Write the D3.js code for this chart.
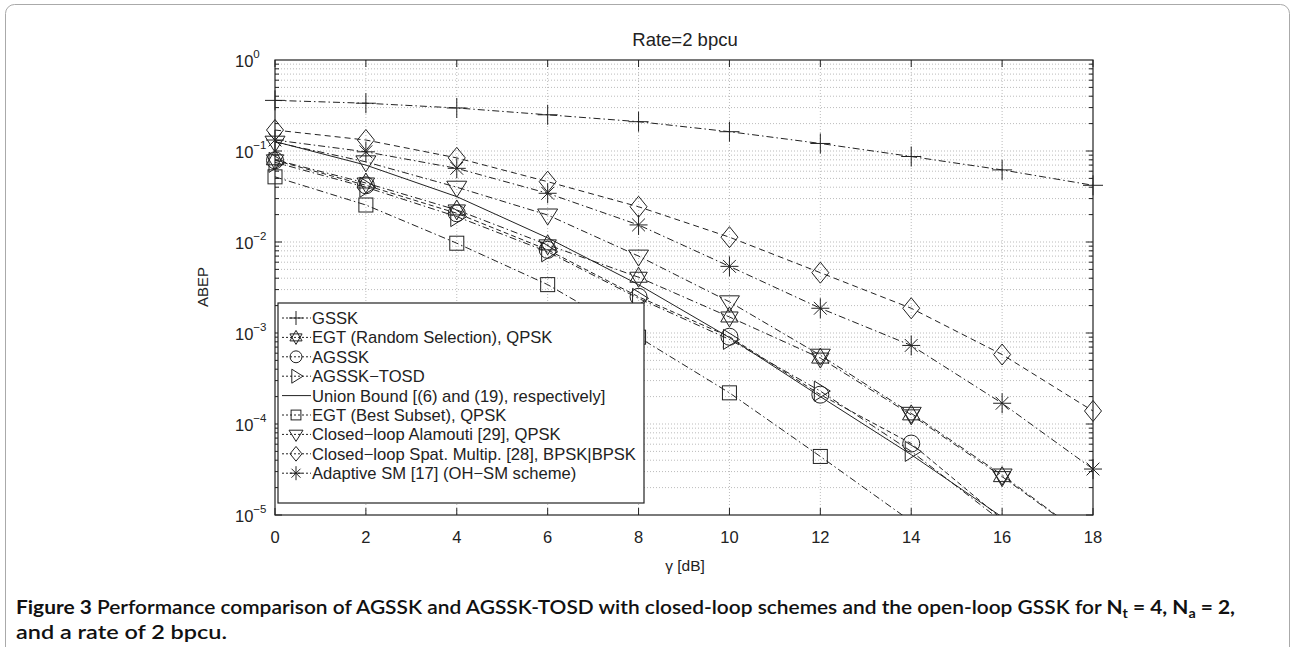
<!DOCTYPE html>
<html>
<head>
<meta charset="utf-8">
<script src="https://cdn.jsdelivr.net/npm/d3@7"></script>
<style>
  body { margin: 0; background: #fff; }
  svg { display: block; }
  text { font-family: "Liberation Sans", Arial, sans-serif; fill: #222; }
  .caption { font-family: Lato, "Noto Sans", sans-serif; font-weight: 700; fill: #111; }
</style>
</head>
<body>
<div class="chart"></div>
<script>
////////// DATA //////////

const snr = [0, 2, 4, 6, 8, 10, 12, 14, 16, 18];

const gssk      = [0.36, 0.335, 0.297, 0.25, 0.21, 0.163, 0.121, 0.087, 0.062, 0.042];
const egtRandom = [0.08, 0.0445, 0.0225, 0.0093, 0.0041, 0.0015, 5.3e-4, 1.26e-4, 2.64e-5, 5e-6];
const agssk     = [0.079, 0.042, 0.0207, 0.0082, 0.0025, 9.1e-4, 2.1e-4, 6.1e-5, 9e-6, 1.5e-6];
const agsskTosd = [0.075, 0.040, 0.019, 0.0078, 0.0024, 8.5e-4, 2.3e-4, 5.0e-5, 8.5e-6, 1.2e-6];
const unionBound = [0.127, 0.070, 0.0315, 0.0111, 0.0034, 8.9e-4, 2.0e-4, 4.6e-5, 9.5e-6, 1.7e-6];
const egtBest   = [0.052, 0.0255, 0.0097, 0.0034, 9e-4, 2.2e-4, 4.4e-5, 8.5e-6, 1.3e-6, 2e-7];
const alamouti  = [0.125, 0.076, 0.040, 0.0198, 0.0070, 0.0022, 5.7e-4, 1.31e-4, 2.75e-5, 5e-6];
const spatMux   = [0.17, 0.132, 0.084, 0.046, 0.0244, 0.0113, 0.0046, 0.00187, 5.8e-4, 1.39e-4];
const adaptSM   = [0.132, 0.098, 0.0645, 0.0343, 0.0154, 0.0054, 0.00187, 7.3e-4, 1.69e-4, 3.2e-5];

const xTicks = [0, 2, 4, 6, 8, 10, 12, 14, 16, 18];
const yDecades = [0, -1, -2, -3, -4, -5];

const series = [
  { name: "GSSK", values: gssk, marker: "plus", dash: "7,3,1.5,3" },
  { name: "EGT (Random Selection), QPSK", values: egtRandom, marker: "hexagram", dash: "7,3,1.5,3" },
  { name: "AGSSK", values: agssk, marker: "circle", dash: "5,3" },
  { name: "AGSSK\u2212TOSD", values: agsskTosd, marker: "triright", dash: "7,3,1.5,3" },
  { name: "Union Bound [(6) and (19), respectively]", values: unionBound, marker: null, dash: null },
  { name: "EGT (Best Subset), QPSK", values: egtBest, marker: "square", dash: "7,3,1.5,3" },
  { name: "Closed\u2212loop Alamouti [29], QPSK", values: alamouti, marker: "tridown", dash: "7,3,1.5,3" },
  { name: "Closed\u2212loop Spat. Multip. [28], BPSK|BPSK", values: spatMux, marker: "diamond", dash: "6,4" },
  { name: "Adaptive SM [17] (OH\u2212SM scheme)", values: adaptSM, marker: "asterisk", dash: "7,3,1.5,3" }
];

////////// SETUP //////////

const W = 1294, H = 647;
const margin = { left: 275, top: 60 };
const width = 1093 - 275, height = 515 - 60;

const svg = d3.select(".chart").append("svg")
    .attr("width", W)
    .attr("height", H);

// outer frame
svg.append("rect")
    .attr("x", 5.5).attr("y", 4.5)
    .attr("width", W - 10).attr("height", H + 20)
    .attr("rx", 9)
    .attr("fill", "none")
    .attr("stroke", "#aaa")
    .attr("stroke-width", 1);

const x = d3.scaleLinear().domain([0, 18]).range([0, width]);
const y = d3.scaleLog().domain([1e-5, 1]).range([height, 0]);

const g = svg.append("g")
    .attr("transform", "translate(" + margin.left + "," + margin.top + ")");

svg.append("defs").append("clipPath").attr("id", "plotclip")
  .append("rect").attr("width", width).attr("height", height);

////////// GRID //////////

let minorVals = [];
for (let e = -5; e < 0; e++) {
  for (let m = 1; m < 10; m++) minorVals.push(m * Math.pow(10, e));
}

g.append("g").selectAll("line")
  .data(minorVals.filter(v => v > 1e-5))
  .enter().append("line")
    .attr("x1", 0).attr("x2", width)
    .attr("y1", d => y(d)).attr("y2", d => y(d))
    .attr("stroke", "#aaa").attr("stroke-width", 0.8)
    .attr("stroke-dasharray", "1,2");

g.append("g").selectAll("line")
  .data(xTicks.slice(1, -1))
  .enter().append("line")
    .attr("x1", d => x(d)).attr("x2", d => x(d))
    .attr("y1", 0).attr("y2", height)
    .attr("stroke", "#aaa").attr("stroke-width", 0.8)
    .attr("stroke-dasharray", "1,2");

////////// TICKS //////////

const ticks = g.append("g").attr("stroke", "#222").attr("stroke-width", 1);
xTicks.forEach(t => {
  ticks.append("line").attr("x1", x(t)).attr("x2", x(t)).attr("y1", height).attr("y2", height - 7);
  ticks.append("line").attr("x1", x(t)).attr("x2", x(t)).attr("y1", 0).attr("y2", 7);
});
minorVals.forEach(v => {
  let len = (Math.abs(Math.log10(v) - Math.round(Math.log10(v))) < 1e-9) ? 7 : 4;
  ticks.append("line").attr("x1", 0).attr("x2", len).attr("y1", y(v)).attr("y2", y(v));
  ticks.append("line").attr("x1", width).attr("x2", width - len).attr("y1", y(v)).attr("y2", y(v));
});

g.append("rect")
    .attr("width", width).attr("height", height)
    .attr("fill", "none").attr("stroke", "#222").attr("stroke-width", 1.2);

g.append("g").selectAll("text")
  .data(xTicks)
  .enter().append("text")
    .style("font-size", "16.5px")
    .attr("x", d => x(d))
    .attr("y", height + 28)
    .attr("text-anchor", "middle")
    .text(d => d);

const yl = g.append("g").selectAll("text")
  .data(yDecades)
  .enter().append("text")
    .style("font-size", "16.5px")
    .attr("x", -40)
    .attr("y", d => y(Math.pow(10, d)) + 7)
    .attr("text-anchor", "start");
yl.append("tspan").text("10");
yl.append("tspan").attr("dy", -9).style("font-size", "11.5px").text(d => d === 0 ? "0" : "\u2212" + Math.abs(d));

// title and axis labels
svg.append("text")
    .attr("x", 685).attr("y", 46).attr("text-anchor", "middle")
    .style("font-size", "18.5px").text("Rate=2 bpcu");
svg.append("text")
    .attr("x", 685).attr("y", 571).attr("text-anchor", "middle")
    .style("font-size", "15.5px").text("\u03b3 [dB]");
svg.append("text")
    .attr("transform", "translate(208," + 287 + ") rotate(-90)")
    .attr("text-anchor", "middle")
    .style("font-size", "15px").text("ABEP");

////////// MARKERS //////////

function drawMarker(sel, type, cx, cy, k) {
  const s = sel.append("g").attr("transform", "translate(" + cx + "," + cy + ") scale(" + k + ")")
      .attr("fill", "none").attr("stroke", "#222").attr("stroke-width", 1 / k);
  if (type === "plus") {
    s.append("path").attr("d", "M-10,0H10M0,-10V10");
  } else if (type === "circle") {
    s.append("circle").attr("r", 8.5);
  } else if (type === "square") {
    s.append("rect").attr("x", -7).attr("y", -7).attr("width", 14).attr("height", 14);
  } else if (type === "diamond") {
    s.append("path").attr("d", "M0,-10.5L8.5,0L0,10.5L-8.5,0Z");
  } else if (type === "tridown") {
    s.append("path").attr("d", "M-10,-6H10L0,10Z");
  } else if (type === "triright") {
    s.append("path").attr("d", "M-6,-10V10L10,0Z");
  } else if (type === "hexagram") {
    s.append("path").attr("d", "M0,-10L8.7,5H-8.7Z M0,10L8.7,-5H-8.7Z");
  } else if (type === "asterisk") {
    s.append("path").attr("d", "M-9,0H9M0,-10V10M-6.4,-6.4L6.4,6.4M-6.4,6.4L6.4,-6.4");
  }
}

////////// SERIES //////////

const line = d3.line()
    .x((d, i) => x(snr[i]))
    .y(d => y(d));

const plot = g.append("g").attr("clip-path", "url(#plotclip)");

series.forEach(s => {
  plot.append("path")
      .datum(s.values)
      .attr("d", line)
      .attr("fill", "none")
      .attr("stroke", "#222")
      .attr("stroke-width", 1)
      .attr("stroke-dasharray", s.dash);
});

const marks = g.append("g");
series.forEach(s => {
  if (!s.marker) return;
  s.values.forEach((v, i) => {
    if (v < 1e-5) return;
    drawMarker(marks, s.marker, x(snr[i]), y(v), 1);
  });
});

////////// LEGEND //////////

const legend = svg.append("g").attr("transform", "translate(278,303)");
legend.append("rect")
    .attr("width", 366).attr("height", 200)
    .attr("fill", "#fff").attr("stroke", "#222").attr("stroke-width", 1.2);

series.forEach((s, i) => {
  const ly = 15 + i * 19.4;
  legend.append("line")
      .attr("x1", 4).attr("x2", 33).attr("y1", ly).attr("y2", ly)
      .attr("stroke", "#222").attr("stroke-width", 1)
      .attr("stroke-dasharray", s.marker ? "2,2" : null);
  if (s.marker) drawMarker(legend, s.marker, 18, ly, 0.7);
  legend.append("text")
      .style("font-size", "16.6px")
      .attr("x", 34).attr("y", ly + 6)
      .text(s.name);
});

////////// CAPTION //////////

const cap1 = svg.append("text").attr("class", "caption")
    .attr("x", 16).attr("y", 614)
    .attr("textLength", 1219).attr("lengthAdjust", "spacingAndGlyphs")
    .style("font-size", "19px");
cap1.append("tspan").text("Figure 3 ");
cap1.append("tspan").style("font-weight", 600).text("Performance comparison of AGSSK and AGSSK-TOSD with closed-loop schemes and the open-loop GSSK for ");
cap1.append("tspan").text("N");
cap1.append("tspan").attr("dy", 4).style("font-size", "13px").text("t");
cap1.append("tspan").attr("dy", -4).text(" = 4, N");
cap1.append("tspan").attr("dy", 4).style("font-size", "13px").text("a");
cap1.append("tspan").attr("dy", -4).text(" = 2,");

svg.append("text").attr("class", "caption").attr("x", 16).attr("y", 639)
    .attr("textLength", 211).attr("lengthAdjust", "spacingAndGlyphs")
    .style("font-size", "19px").style("font-weight", 600)
    .text("and a rate of 2 bpcu.");
</script>
</body>
</html>
